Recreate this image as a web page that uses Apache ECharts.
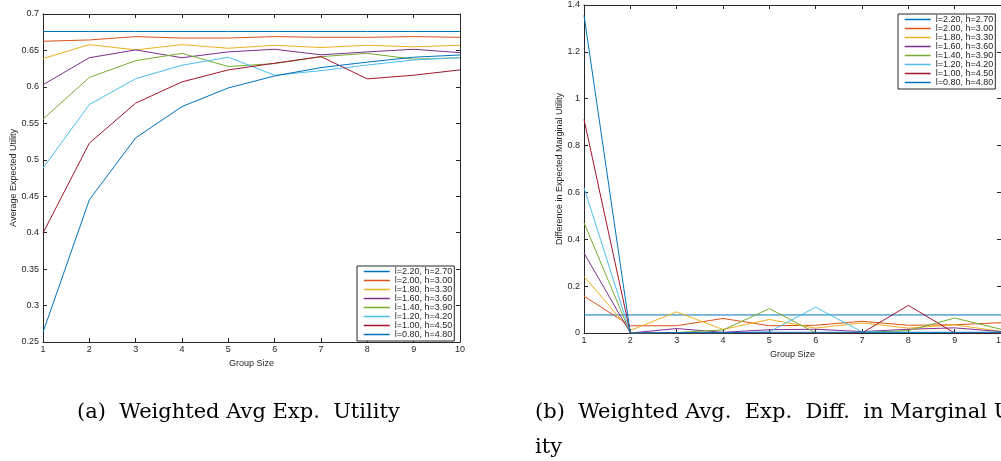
<!DOCTYPE html>
<html>
<head>
<meta charset="utf-8">
<script src="https://cdn.jsdelivr.net/npm/echarts@6/dist/echarts.min.js"></script>
<style>
  html, body { margin: 0; padding: 0; background: #fff; }
  #chart { width: 1001px; height: 461px; }
</style>
</head>
<body>
<div id="chart"></div>
<script>
// group sizes on the x axis
var groupSizes = [1, 2, 3, 4, 5, 6, 7, 8, 9, 10];
var seriesNames = [
  'l=2.20, h=2.70', 'l=2.00, h=3.00', 'l=1.80, h=3.30', 'l=1.60, h=3.60',
  'l=1.40, h=3.90', 'l=1.20, h=4.20', 'l=1.00, h=4.50', 'l=0.80, h=4.80'
];
var colors = ['#0072BD', '#D95319', '#EDB120', '#7E2F8E', '#77AC30', '#4DBEEE', '#A2142F', '#0072BD'];

// (a) average expected utility
var util1 = [0.676, 0.676, 0.676, 0.676, 0.676, 0.676, 0.676, 0.676, 0.676, 0.676];
var util2 = [0.6626, 0.6644, 0.669, 0.667, 0.667, 0.669, 0.668, 0.668, 0.669, 0.668];
var util3 = [0.6388, 0.658, 0.6507, 0.658, 0.653, 0.657, 0.654, 0.657, 0.655, 0.657];
var util4 = [0.603, 0.640, 0.6507, 0.640, 0.648, 0.6516, 0.644, 0.648, 0.6516, 0.647];
var util5 = [0.5557, 0.613, 0.636, 0.646, 0.628, 0.632, 0.6415, 0.646, 0.638, 0.640];
var util6 = [0.4886, 0.5757, 0.6113, 0.6297, 0.6407, 0.616, 0.6223, 0.630, 0.637, 0.640];
var util7 = [0.3995, 0.5228, 0.5777, 0.6069, 0.6233, 0.6325, 0.6415, 0.611, 0.616, 0.6233];
var util8 = [0.2634, 0.445, 0.530, 0.573, 0.5986, 0.615, 0.6265, 0.634, 0.6407, 0.6438];

// (b) difference in expected marginal utility
var diff1 = [0.077, 0.077, 0.077, 0.077, 0.077, 0.077, 0.077, 0.077, 0.077, 0.077];
var diff2 = [0.157, 0.031, 0.031, 0.062, 0.031, 0.033, 0.05, 0.033, 0.035, 0.044];
var diff3 = [0.242, 0.011, 0.09, 0.015, 0.058, 0.021, 0.043, 0.021, 0.035, 0.007];
var diff4 = [0.341, 0, 0.019, 0.003, 0.014, 0.016, 0.006, 0.016, 0.022, 0.006];
var diff5 = [0.471, 0, 0.002, 0.013, 0.104, 0.001, 0.003, 0.01, 0.064, 0.016];
var diff6 = [0.62, 0, 0.001, 0, 0.005, 0.11, 0.005, 0.002, 0.002, 0.003];
var diff7 = [0.912, 0, 0, 0, 0, 0, 0, 0.118, 0, 0];
var diff8 = [1.356, 0, 0.002, 0.002, 0.003, 0.003, 0.003, 0.003, 0.003, 0.003];

var utilData = [util1, util2, util3, util4, util5, util6, util7, util8];
var diffData = [diff1, diff2, diff3, diff4, diff5, diff6, diff7, diff8];

var axisColor = '#262626';
var font = 'Liberation Sans';
var capFont = 'DejaVu Serif';

function pairs(vals) {
  return vals.map(function (v, i) { return [groupSizes[i], v]; });
}

function xAx(grid, pos, name, gap) {
  var main = pos === 'bottom';
  return {
    type: 'value', gridIndex: grid, position: pos, min: 1, max: 10, interval: 1,
    name: main ? name : '', nameLocation: 'middle', nameGap: gap,
    nameTextStyle: { fontFamily: font, fontSize: 9, color: axisColor },
    axisLine: { show: true, onZero: false, lineStyle: { color: axisColor, width: 1 } },
    axisTick: { show: true, inside: true, length: 4, lineStyle: { color: axisColor } },
    axisLabel: { show: main, fontFamily: font, fontSize: 9, color: axisColor, margin: 3 },
    splitLine: { show: false }
  };
}

function yAx(grid, pos, min, max, step, name, gap) {
  var main = pos === 'left';
  return {
    type: 'value', gridIndex: grid, position: pos, min: min, max: max, interval: step,
    name: main ? name : '', nameLocation: 'middle', nameGap: gap,
    nameTextStyle: { fontFamily: font, fontSize: 9, color: axisColor },
    axisLine: { show: true, onZero: false, lineStyle: { color: axisColor, width: 1 } },
    axisTick: { show: true, inside: true, length: 4, lineStyle: { color: axisColor } },
    axisLabel: { show: main, fontFamily: font, fontSize: 9, color: axisColor, margin: 4 },
    splitLine: { show: false }
  };
}

var series = [];
utilData.forEach(function (vals, i) {
  series.push({
    name: seriesNames[i], type: 'line', xAxisIndex: 0, yAxisIndex: 0,
    data: pairs(vals), showSymbol: false, symbol: 'none', animation: false,
    lineStyle: { width: 1, color: colors[i] }, itemStyle: { color: colors[i] }
  });
});
diffData.forEach(function (vals, i) {
  series.push({
    name: seriesNames[i], type: 'line', xAxisIndex: 2, yAxisIndex: 2,
    data: pairs(vals), showSymbol: false, symbol: 'none', animation: false,
    lineStyle: { width: 1, color: colors[i] }, itemStyle: { color: colors[i] }
  });
});

function legendAt(left, top) {
  return {
    orient: 'vertical', left: left, top: top, data: seriesNames,
    itemWidth: 26, itemHeight: 8, itemGap: 0, padding: [1, 2, 2, 6],
    borderColor: axisColor, borderWidth: 1, backgroundColor: '#fff',
    selectedMode: false,
    itemStyle: { opacity: 0 },
    lineStyle: { width: 1.5 },
    textStyle: { fontFamily: font, fontSize: 9, lineHeight: 8, color: axisColor }
  };
}

var chart = echarts.init(document.getElementById('chart'));
chart.setOption({
  backgroundColor: '#fff',
  animation: false,
  grid: [
    { left: 43, top: 14, width: 417, height: 328, outerBoundsMode: 'none' },
    { left: 584, top: 5, width: 417, height: 328, outerBoundsMode: 'none' }
  ],
  xAxis: [
    xAx(0, 'bottom', 'Group Size', 13), xAx(0, 'top', '', 0),
    xAx(1, 'bottom', 'Group Size', 13), xAx(1, 'top', '', 0)
  ],
  yAxis: [
    yAx(0, 'left', 0.25, 0.7, 0.05, 'Average Expected Utility', 23),
    yAx(0, 'right', 0.25, 0.7, 0.05, '', 0),
    yAx(1, 'left', 0, 1.4, 0.2, 'Difference in Expected Marginal Utility', 19),
    yAx(1, 'right', 0, 1.4, 0.2, '', 0)
  ],
  legend: [legendAt(357, 266), legendAt(898, 14)],
  series: series,
  graphic: [
    { type: 'text', left: 77, top: 402,
      style: { text: '(a)  Weighted Avg Exp.  Utility', fontFamily: capFont, fontSize: 21, fill: '#000' } },
    { type: 'text', left: 535, top: 402,
      style: { text: '(b)  Weighted Avg.  Exp.  Diff.  in Marginal Util-', fontFamily: capFont, fontSize: 21, fill: '#000' } },
    { type: 'text', left: 535, top: 437,
      style: { text: 'ity', fontFamily: capFont, fontSize: 21, fill: '#000' } }
  ]
});
</script>
</body>
</html>
